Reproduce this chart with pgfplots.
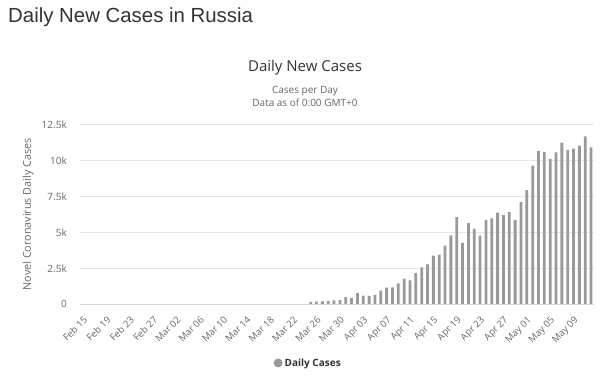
\documentclass[border=0pt]{standalone}
\usepackage{pgfplots}
\pgfplotsset{compat=1.18}
\usepackage{fontspec}
\setmainfont{Open Sans}
\newfontfamily\titlefont{Liberation Sans}
\definecolor{barc}{HTML}{999999}
\definecolor{gridc}{HTML}{E6E6E6}
\definecolor{axisc}{HTML}{CCD6EB}
\definecolor{labc}{HTML}{666666}
\definecolor{titc}{HTML}{333333}
\begin{document}
\begin{tikzpicture}
\useasboundingbox (0pt,0pt) rectangle (600pt,-378pt);
\node[anchor=west, font=\titlefont\fontsize{20.4}{24}\selectfont, text=titc, inner sep=0pt] at (8pt,-17pt) {Daily New Cases in Russia};
\node[font=\fontsize{15}{18}\selectfont, text=titc, inner sep=0pt] at (305pt,-68pt) {Daily New Cases};
\node[font=\fontsize{10}{12}\selectfont, text=labc, inner sep=0pt] at (305pt,-91pt) {Cases per Day};
\node[font=\fontsize{10}{12}\selectfont, text=labc, inner sep=0pt] at (305pt,-103pt) {Data as of 0:00 GMT+0};
\begin{axis}[
  at={(80pt,-304.3pt)}, anchor=south west,
  scale only axis, width=514pt, height=180pt,
  xmin=-0.5, xmax=87.5, ymin=0, ymax=12500,
  ybar, bar width=2.8pt,
  axis line style={draw=none},
  axis x line*=bottom,
  axis y line*=left,
  ymajorgrids, grid style={gridc, line width=0.8pt},
  major tick length=0pt,
  scaled y ticks=false,
  ytick={0,2500,5000,7500,10000,12500},
  yticklabels={0,2.5k,5k,7.5k,10k,12.5k},
  yticklabel style={font=\fontsize{10}{12}\selectfont, text=labc, anchor=east, inner sep=0pt, xshift=-13pt},
  xtick={0,4,...,84},
  xticklabels={Feb 15,Feb 19,Feb 23,Feb 27,Mar 02,Mar 06,Mar 10,Mar 14,Mar 18,Mar 22,Mar 26,Mar 30,Apr 03,Apr 07,Apr 11,Apr 15,Apr 19,Apr 23,Apr 27,May 01,May 05,May 09},
  xticklabel style={font=\fontsize{9.5}{11}\selectfont, text=labc, rotate=45, anchor=north east, inner sep=0pt, xshift=-7.8pt, yshift=-7.8pt},
  ylabel={Novel Coronavirus Daily Cases},
  every axis y label/.style={at={(axis description cs:-0.101,0.5)}, rotate=90, anchor=center, font=\fontsize{10.8}{12}\selectfont, text=labc},
  legend style={at={(axis description cs:0.444,-0.326)}, anchor=center, draw=none, fill=none, font=\bfseries\fontsize{10}{12}\selectfont, text=titc, inner sep=0pt},
  legend image code/.code={\fill[barc] (0pt,0pt) circle (4.5pt);},
  clip=false,
]
\addplot[fill=barc, draw=none] coordinates {
(39,163) (40,182) (41,196) (42,228) (43,270) (44,302) (45,501) (46,440)
(47,771) (48,601) (49,582) (50,658) (51,954) (52,1154) (53,1175) (54,1459)
(55,1786) (56,1667) (57,2186) (58,2558) (59,2774) (60,3388) (61,3448) (62,4070)
(63,4785) (64,6060) (65,4268) (66,5642) (67,5236) (68,4774) (69,5849) (70,5966)
(71,6361) (72,6198) (73,6411) (74,5841) (75,7099) (76,7933) (77,9623) (78,10633)
(79,10581) (80,10102) (81,10559) (82,11231) (83,10699) (84,10817) (85,11012) (86,11656)
(87,10899)
};
\addlegendentry{Daily Cases}
\draw[axisc, line width=1pt] (axis cs:-0.5,0) -- (axis cs:87.5,0);
\end{axis}
\end{tikzpicture}
\end{document}
